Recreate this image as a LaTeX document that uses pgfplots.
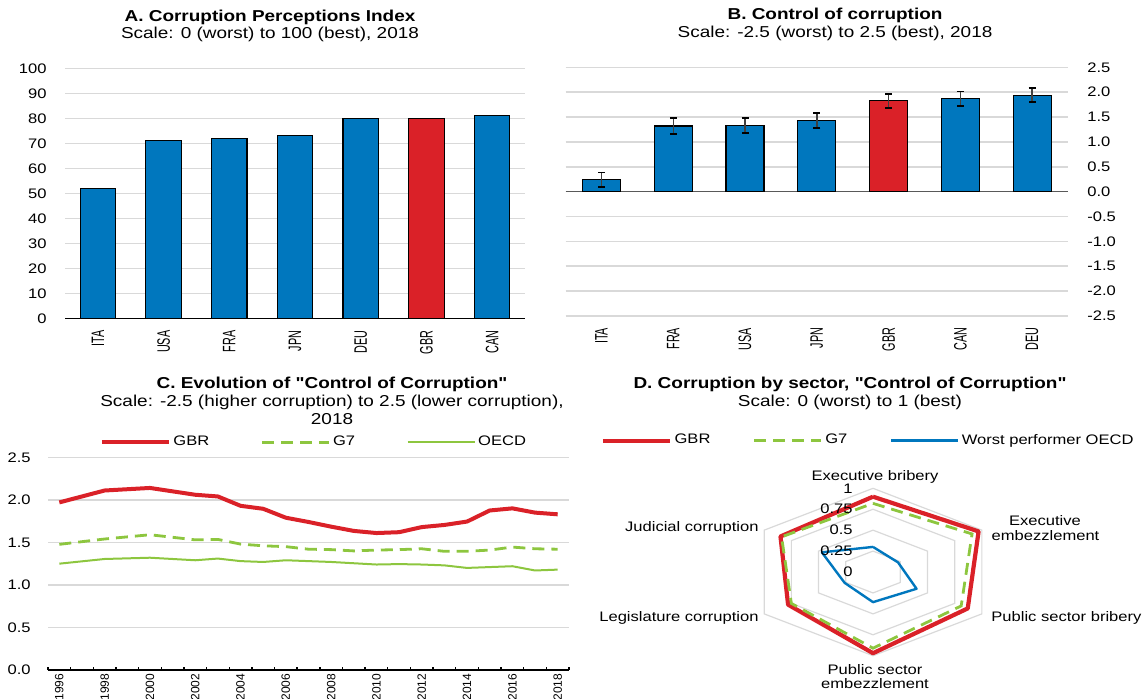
\documentclass[border=0pt]{standalone}
\usepackage{fontspec}
\setmainfont{Liberation Sans}[FakeStretch=1.2, Ligatures=TeXOff]
\newfontfamily\narrowfont{Liberation Sans}[FakeStretch=0.6]
\newfontfamily\yearfont{Liberation Sans}
\usepackage{pgfplots}
\pgfplotsset{compat=1.18}
\definecolor{oblue}{RGB}{0,119,190}
\definecolor{ored}{RGB}{218,33,40}
\definecolor{ogreen}{RGB}{141,198,63}
\definecolor{ogrid}{RGB}{217,217,217}
\newcommand{\tfont}{\fontsize{7.9}{9.5}\selectfont}
\newcommand{\kfont}{\fontsize{6.9}{8.3}\selectfont}
\newcommand{\rfont}{\narrowfont\fontsize{9}{9}\selectfont}
\newcommand{\yfont}{\yearfont\fontsize{6}{7}\selectfont}
\pgfplotsset{
  /pgf/number format/assume math mode=true,
  oecd/.style={
    scale only axis,
    tick label style={font=\kfont},
    ymajorgrids,
    major grid style={ogrid, line width=0.8pt},
    tick style={draw=none},
    clip=false,
  },
}
\begin{document}
\begin{tikzpicture}
\useasboundingbox (0,0) rectangle (571.5pt,-349pt);

% ---------------- Panel A ----------------
\node[anchor=base, font=\tfont\bfseries] at (135pt,-10.5pt) {A. Corruption Perceptions Index};
\node[anchor=base, font=\tfont] at (135pt,-19.25pt) {Scale: 0 (worst) to 100 (best), 2018};
\begin{axis}[oecd, at={(32.5pt,-159.15pt)}, anchor=south west, width=230pt, height=125pt,
  xmin=-0.5, xmax=6.5, ymin=0, ymax=100, ytick={0,10,20,30,40,50,60,70,80,90,100},
  xtick={0,1,2,3,4,5,6}, xticklabels={ITA,USA,FRA,JPN,DEU,GBR,CAN},
  xticklabel style={rotate=90, anchor=east, inner xsep=1.7pt, inner ysep=0pt, font=\rfont},
  yticklabel style={anchor=east, inner sep=0pt, xshift=-9pt},
  axis x line*=bottom, axis y line*=left, y axis line style={draw=none},
  x axis line style={black, line width=0.7pt},
  ybar, bar width=17.7pt]
\addplot[fill=oblue, draw=black, line width=0.6pt, bar shift=0pt] coordinates {(0,52) (1,71) (2,72) (3,73) (4,80) (6,81)};
\addplot[fill=ored, draw=black, line width=0.6pt, bar shift=0pt] coordinates {(5,80)};
\end{axis}

% ---------------- Panel B ----------------
\node[anchor=base, font=\tfont\bfseries] at (417.5pt,-9.75pt) {B. Control of corruption};
\node[anchor=base, font=\tfont] at (417.5pt,-18.5pt) {Scale: -2.5 (worst) to 2.5 (best), 2018};
\begin{axis}[oecd, at={(282.8pt,-158pt)}, anchor=south west, width=251.2pt, height=124.35pt,
  xmin=-0.5, xmax=6.5, ymin=-2.5, ymax=2.5,
  ytick={-2.5,-2,-1.5,-1,-0.5,0,0.5,1,1.5,2,2.5},
  yticklabel pos=right,
  yticklabel style={/pgf/number format/fixed, /pgf/number format/fixed zerofill, /pgf/number format/precision=1, anchor=west, inner sep=0pt, xshift=9.5pt},
  axis line style={draw=none},
  xtick={0,1,2,3,4,5,6}, xticklabels={ITA,FRA,USA,JPN,GBR,CAN,DEU},
  xticklabel style={rotate=90, anchor=east, inner xsep=1.5pt, inner ysep=0pt, font=\rfont},
  extra y ticks={0}, extra y tick labels={},
  extra y tick style={major grid style={black!65, line width=0.8pt}},
  ybar, bar width=19pt]
\addplot[fill=oblue, draw=black, line width=0.6pt, bar shift=0pt,
  error bars/.cd, y dir=both, y explicit,
  error bar style={black!75, line width=0.7pt},
  error mark options={rotate=90, black, line width=0.9pt, mark size=1.75pt}]
  coordinates {(0,0.24) +- (0,0.145) (1,1.32) +- (0,0.155) (2,1.33) +- (0,0.145) (3,1.43) +- (0,0.145) (5,1.87) +- (0,0.145) (6,1.94) +- (0,0.145)};
\addplot[fill=ored, draw=black, line width=0.6pt, bar shift=0pt,
  error bars/.cd, y dir=both, y explicit,
  error bar style={black!75, line width=0.7pt},
  error mark options={rotate=90, black, line width=0.9pt, mark size=1.75pt}]
  coordinates {(4,1.83) +- (0,0.14)};
\end{axis}

% ---------------- Panel C ----------------
\node[anchor=base, font=\tfont\bfseries] at (166pt,-194.15pt) {C. Evolution of "Control of Corruption"};
\node[anchor=base, font=\tfont] at (166pt,-203pt) {Scale: -2.5 (higher corruption) to 2.5 (lower corruption),};
\node[anchor=base, font=\tfont] at (166pt,-212pt) {2018};
\begin{axis}[oecd, at={(24pt,-335pt)}, anchor=south west, width=260.5pt, height=106.35pt,
  xmin=1995.5, xmax=2018.5, ymin=0, ymax=2.5, ytick={0,0.5,1,1.5,2,2.5},
  yticklabel style={/pgf/number format/fixed, /pgf/number format/fixed zerofill, /pgf/number format/precision=1, anchor=east, inner sep=0pt, xshift=-8.5pt},
  axis x line*=bottom, axis y line*=left, y axis line style={draw=none},
  x axis line style={black, line width=0.7pt},
  xtick={1995.5,1996.5,...,2018.5}, xticklabels={},
  xtick style={draw=black, line width=0.7pt}, xtick align=inside, major tick length=1.5pt,
  extra x ticks={1996,1998,2000,2002,2004,2006,2008,2010,2012,2014,2016,2018},
  extra x tick labels={1996,1998,2000,2002,2004,2006,2008,2010,2012,2014,2016,2018},
  extra x tick style={major tick length=0pt},
  xticklabel style={rotate=90, anchor=east, inner xsep=1.75pt, inner ysep=0pt, font=\yfont},
  legend columns=3,
  legend style={at={(0.0988,1.07)}, anchor=west, draw=none, fill=none, inner sep=0pt, font=\kfont,
    nodes={inner sep=1.25pt}, /tikz/every even column/.append style={column sep=24.5pt}},
  legend image code/.code={\draw[#1] (0pt,0pt) -- (33.5pt,0pt);}]
\addplot[ored, line width=2pt, line join=round] coordinates {(1996,1.97) (1998,2.11) (2000,2.14) (2002,2.06) (2003,2.04) (2004,1.93) (2005,1.895) (2006,1.79) (2007,1.74) (2008,1.685) (2009,1.635) (2010,1.61) (2011,1.62) (2012,1.68) (2013,1.705) (2014,1.745) (2015,1.875) (2016,1.90) (2017,1.85) (2018,1.83)};
\addlegendentry{GBR}
\addplot[ogreen, line width=1.4pt, dash pattern=on 6pt off 3.5pt] coordinates {(1996,1.477) (1998,1.54) (2000,1.59) (2002,1.53) (2003,1.535) (2004,1.48) (2005,1.46) (2006,1.45) (2007,1.42) (2008,1.415) (2009,1.40) (2010,1.41) (2011,1.415) (2012,1.425) (2013,1.395) (2014,1.395) (2015,1.41) (2016,1.445) (2017,1.425) (2018,1.42)};
\addlegendentry{G7}
\addplot[ogreen, line width=1pt, line join=round] coordinates {(1996,1.25) (1998,1.305) (2000,1.32) (2002,1.29) (2003,1.31) (2004,1.28) (2005,1.27) (2006,1.29) (2007,1.28) (2008,1.27) (2009,1.255) (2010,1.24) (2011,1.245) (2012,1.24) (2013,1.23) (2014,1.20) (2015,1.21) (2016,1.22) (2017,1.17) (2018,1.18)};
\addlegendentry{OECD}
\end{axis}

% ---------------- Panel D ----------------
\node[anchor=base, font=\tfont\bfseries] at (425pt,-194.15pt) {D. Corruption by sector, "Control of Corruption"};
\node[anchor=base, font=\tfont] at (425pt,-203pt) {Scale: 0 (worst) to 1 (best)};
\begin{axis}[at={(373.65pt,-327.85pt)}, anchor=south west, scale only axis, width=125.7pt, height=83.7pt,
  xmin=-1, xmax=1, ymin=-1, ymax=1, hide axis, clip=false,
  legend columns=3,
  legend style={at={(-0.584,1.285)}, anchor=west, draw=none, fill=none, inner sep=0pt, font=\kfont,
    nodes={inner sep=1.25pt}, /tikz/every even column/.append style={column sep=20pt}},
  legend image code/.code={\draw[#1] (0pt,0pt) -- (33.5pt,0pt);}]
\addplot[ogrid, line width=0.6pt, data cs=polar, forget plot] coordinates {(90,1) (30,1) (-30,1) (-90,1) (-150,1) (150,1) (90,1)};
\addplot[ogrid, line width=0.6pt, data cs=polar, forget plot] coordinates {(90,0.75) (30,0.75) (-30,0.75) (-90,0.75) (-150,0.75) (150,0.75) (90,0.75)};
\addplot[ogrid, line width=0.6pt, data cs=polar, forget plot] coordinates {(90,0.5) (30,0.5) (-30,0.5) (-90,0.5) (-150,0.5) (150,0.5) (90,0.5)};
\addplot[ogrid, line width=0.6pt, data cs=polar, forget plot] coordinates {(90,0.25) (30,0.25) (-30,0.25) (-90,0.25) (-150,0.25) (150,0.25) (90,0.25)};
\addplot[ored, line width=2.1pt, line join=round, data cs=polar] coordinates {(90,0.90) (30,0.97) (-30,0.87) (-90,0.97) (-150,0.78) (150,0.85) (90,0.90)};
\addlegendentry{GBR}
\addplot[ogreen, line width=1.4pt, dash pattern=on 6pt off 3.5pt, data cs=polar] coordinates {(90,0.82) (30,0.91) (-30,0.81) (-90,0.91) (-150,0.75) (150,0.84) (90,0.82)};
\addlegendentry{G7}
\addplot[oblue, line width=1.2pt, line join=round, data cs=polar] coordinates {(90,0.30) (30,0.23) (-30,0.40) (-90,0.36) (-150,0.26) (150,0.47) (90,0.30)};
\addlegendentry{Worst performer OECD}
\node[anchor=east, font=\kfont, inner sep=0pt] at (axis cs:-0.159,1) {1};
\node[anchor=east, font=\kfont, inner sep=0pt] at (axis cs:-0.159,0.75) {0.75};
\node[anchor=east, font=\kfont, inner sep=0pt] at (axis cs:-0.159,0.5) {0.5};
\node[anchor=east, font=\kfont, inner sep=0pt] at (axis cs:-0.159,0.25) {0.25};
\node[anchor=east, font=\kfont, inner sep=0pt] at (axis cs:-0.159,0) {0};
\end{axis}
\node[anchor=base, font=\kfont] at (437.5pt,-240pt) {Executive bribery};
\node[anchor=base, font=\kfont] at (522.5pt,-262.5pt) {Executive};
\node[anchor=base, font=\kfont] at (522.75pt,-270pt) {embezzlement};
\node[anchor=base west, font=\kfont, inner sep=0pt] at (495.5pt,-310.85pt) {Public sector bribery};
\node[anchor=base, font=\kfont] at (437.5pt,-337pt) {Public sector};
\node[anchor=base, font=\kfont] at (437.5pt,-344pt) {embezzlement};
\node[anchor=base east, font=\kfont, inner sep=0pt] at (379.5pt,-310.85pt) {Legislature corruption};
\node[anchor=base east, font=\kfont, inner sep=0pt] at (379.5pt,-265.85pt) {Judicial corruption};
\end{tikzpicture}
\end{document}
